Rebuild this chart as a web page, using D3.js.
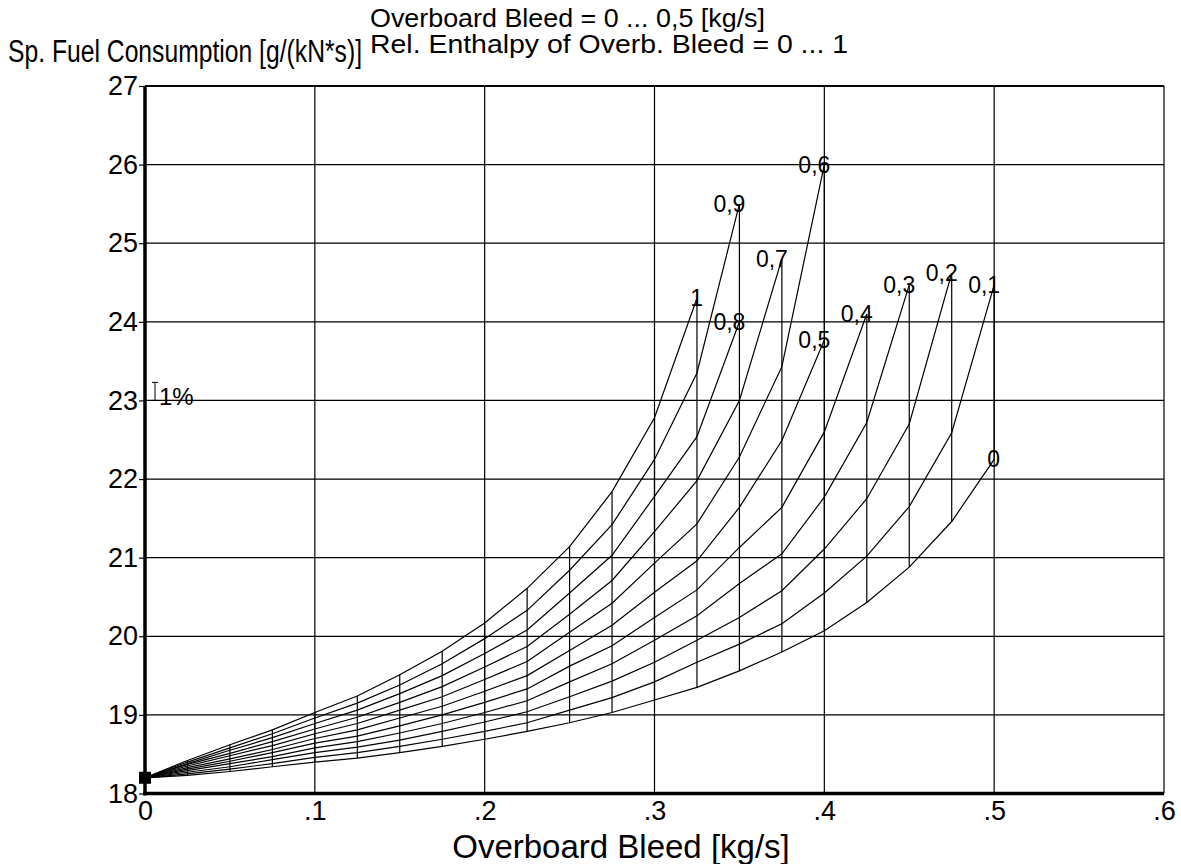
<!DOCTYPE html>
<html>
<head>
<meta charset="utf-8">
<script src="https://cdn.jsdelivr.net/npm/d3@7/dist/d3.min.js"></script>
<style>
  body { margin: 0; background: #fff; }
  text { font-family: "Liberation Sans", Arial, sans-serif; fill: #000; }
</style>
</head>
<body>
<svg id="chart"></svg>
<script>
// overboard bleed steps [kg/s]
const bleed = [0, 0.025, 0.05, 0.075, 0.1, 0.125, 0.15, 0.175, 0.2, 0.225, 0.25,
               0.275, 0.3, 0.325, 0.35, 0.375, 0.4, 0.425, 0.45, 0.475, 0.5];

const enthalpyLabels = ["0", "0,1", "0,2", "0,3", "0,4", "0,5", "0,6", "0,7", "0,8", "0,9", "1"];

// sp. fuel consumption per relative enthalpy, one value per bleed step
const sfcH00 = [18.20, 18.23, 18.28, 18.34, 18.40, 18.45, 18.52, 18.60, 18.69, 18.79, 18.90, 19.03, 19.19, 19.35, 19.56, 19.80, 20.07, 20.43, 20.88, 21.46, 22.25];
const sfcH01 = [18.20, 18.25, 18.31, 18.38, 18.46, 18.52, 18.60, 18.69, 18.79, 18.90, 19.06, 19.22, 19.42, 19.67, 19.90, 20.16, 20.55, 21.02, 21.65, 22.59, 24.47];
const sfcH02 = [18.20, 18.27, 18.34, 18.43, 18.52, 18.59, 18.68, 18.79, 18.91, 19.04, 19.23, 19.43, 19.67, 19.95, 20.24, 20.58, 21.11, 21.75, 22.70, 24.62];
const sfcH03 = [18.20, 18.29, 18.38, 18.47, 18.58, 18.66, 18.77, 18.89, 19.03, 19.18, 19.42, 19.65, 19.95, 20.26, 20.67, 21.05, 21.77, 22.72, 24.47];
const sfcH04 = [18.20, 18.31, 18.41, 18.52, 18.64, 18.73, 18.86, 19.00, 19.16, 19.33, 19.62, 19.88, 20.24, 20.59, 21.13, 21.64, 22.60, 24.10];
const sfcH05 = [18.20, 18.33, 18.44, 18.56, 18.70, 18.81, 18.96, 19.11, 19.30, 19.50, 19.82, 20.14, 20.56, 20.96, 21.64, 22.49, 23.77];
const sfcH06 = [18.20, 18.35, 18.48, 18.61, 18.76, 18.89, 19.06, 19.23, 19.45, 19.68, 20.05, 20.42, 20.93, 21.43, 22.28, 23.43, 26.00];
const sfcH07 = [18.20, 18.37, 18.51, 18.66, 18.82, 18.97, 19.16, 19.36, 19.61, 19.87, 20.28, 20.71, 21.33, 21.98, 23.00, 24.80];
const sfcH08 = [18.20, 18.38, 18.55, 18.71, 18.89, 19.06, 19.27, 19.50, 19.78, 20.08, 20.55, 21.03, 21.78, 22.54, 24.00];
const sfcH09 = [18.20, 18.40, 18.58, 18.76, 18.96, 19.15, 19.38, 19.65, 19.97, 20.33, 20.84, 21.42, 22.25, 23.35, 25.50];
const sfcH10 = [18.20, 18.42, 18.62, 18.81, 19.03, 19.24, 19.51, 19.81, 20.17, 20.61, 21.14, 21.84, 22.78, 24.30];

const xTicks = [0, 0.1, 0.2, 0.3, 0.4, 0.5, 0.6];
const xTickLabels = ["0", ".1", ".2", ".3", ".4", ".5", ".6"];
const yTicks = [18, 19, 20, 21, 22, 23, 24, 25, 26, 27];

const curves = [sfcH00, sfcH01, sfcH02, sfcH03, sfcH04, sfcH05, sfcH06, sfcH07, sfcH08, sfcH09, sfcH10];

const width = 1181, height = 864;
const svg = d3.select("#chart").attr("width", width).attr("height", height);

const x = d3.scaleLinear().domain([0, 0.6]).range([145, 1164]);
const y = d3.scaleLinear().domain([18, 27]).range([793.5, 86]);

// grid
svg.append("g")
    .selectAll("line")
    .data(xTicks.slice(1))
    .enter()
    .append("line")
    .attr("x1", d => x(d)).attr("x2", d => x(d))
    .attr("y1", y(18)).attr("y2", y(27))
    .attr("stroke", "#000").attr("stroke-width", 1.2);

svg.append("g")
    .selectAll("line")
    .data(yTicks.slice(1))
    .enter()
    .append("line")
    .attr("x1", x(0)).attr("x2", x(0.6))
    .attr("y1", d => y(d)).attr("y2", d => y(d))
    .attr("stroke", "#000").attr("stroke-width", d => d === 27 ? 2 : 1.2);

// axes
const yAxis = svg.append("g")
    .attr("transform", `translate(${x(0)},0)`)
    .call(d3.axisLeft(y).tickValues(yTicks).tickSize(6).tickPadding(1).tickFormat(d3.format("d")));
yAxis.select(".domain").remove();
yAxis.selectAll("line").attr("stroke-width", 1.2);
yAxis.selectAll("text").style("font-size", "27px").attr("font-family", null);

const xAxis = svg.append("g")
    .attr("transform", `translate(0,${y(18)})`)
    .call(d3.axisBottom(x).tickValues(xTicks).tickSize(0).tickPadding(7).tickFormat((d, i) => xTickLabels[i]));
xAxis.select(".domain").remove();
xAxis.selectAll("text").style("font-size", "27px").attr("font-family", null);

svg.append("line")
    .attr("x1", x(0)).attr("x2", x(0))
    .attr("y1", y(27)).attr("y2", y(18) + 2)
    .attr("stroke", "#000").attr("stroke-width", 3.5);
svg.append("line")
    .attr("x1", x(0) - 2).attr("x2", x(0.6))
    .attr("y1", y(18)).attr("y2", y(18))
    .attr("stroke", "#000").attr("stroke-width", 3.5);

// carpet: constant-enthalpy curves
const line = d3.line()
    .x((d, i) => x(bleed[i]))
    .y(d => y(d));

svg.append("g")
    .selectAll("path")
    .data(curves)
    .enter()
    .append("path")
    .attr("d", line)
    .attr("fill", "none")
    .attr("stroke", "#000")
    .attr("stroke-width", 1.2);

// carpet: constant-bleed connectors
const connectors = bleed.slice(1).map((b, j) => {
    const k = j + 1;
    const vals = curves.filter(c => c.length > k).map(c => c[k]);
    return { b, lo: d3.min(vals), hi: d3.max(vals) };
});

svg.append("g")
    .selectAll("line")
    .data(connectors)
    .enter()
    .append("line")
    .attr("x1", d => x(d.b)).attr("x2", d => x(d.b))
    .attr("y1", d => y(d.lo)).attr("y2", d => y(d.hi))
    .attr("stroke", "#000")
    .attr("stroke-width", 1.2);

// curve labels at the end of each curve
svg.append("g")
    .selectAll("text")
    .data(curves)
    .enter()
    .append("text")
    .attr("x", d => x(bleed[d.length - 1]) + 6)
    .attr("y", d => y(d[d.length - 1]) + 8)
    .attr("text-anchor", "end")
    .style("font-size", "23px")
    .text((d, i) => enthalpyLabels[i]);

// design point marker
svg.append("rect")
    .attr("x", x(0) - 6).attr("y", y(sfcH00[0]) - 6)
    .attr("width", 12).attr("height", 12)
    .attr("fill", "#000");

// 1% bar
const barBase = 23;
const barX = x(0) + 10;
svg.append("path")
    .attr("d", `M${barX - 3},${y(barBase * 1.01)}H${barX + 3}M${barX},${y(barBase * 1.01)}V${y(barBase)}M${barX - 3},${y(barBase)}H${barX + 3}`)
    .attr("stroke", "#000").attr("stroke-width", 1).attr("fill", "none");
svg.append("text")
    .attr("x", barX + 4).attr("y", y(barBase) + 5)
    .style("font-size", "24px")
    .text("1%");

// titles
svg.append("text")
    .attr("x", 8).attr("y", 62)
    .attr("textLength", 354).attr("lengthAdjust", "spacingAndGlyphs")
    .style("font-size", "31px")
    .text("Sp. Fuel Consumption [g/(kN*s)]");

svg.append("text")
    .attr("x", 370).attr("y", 27)
    .attr("textLength", 395).attr("lengthAdjust", "spacingAndGlyphs")
    .style("font-size", "26px")
    .text("Overboard Bleed = 0 ... 0,5 [kg/s]");

svg.append("text")
    .attr("x", 370).attr("y", 53)
    .attr("textLength", 478).attr("lengthAdjust", "spacingAndGlyphs")
    .style("font-size", "26px")
    .text("Rel. Enthalpy of Overb. Bleed = 0 ... 1");

svg.append("text")
    .attr("x", 621).attr("y", 858)
    .attr("text-anchor", "middle")
    .style("font-size", "33px")
    .text("Overboard Bleed [kg/s]");
</script>
</body>
</html>
